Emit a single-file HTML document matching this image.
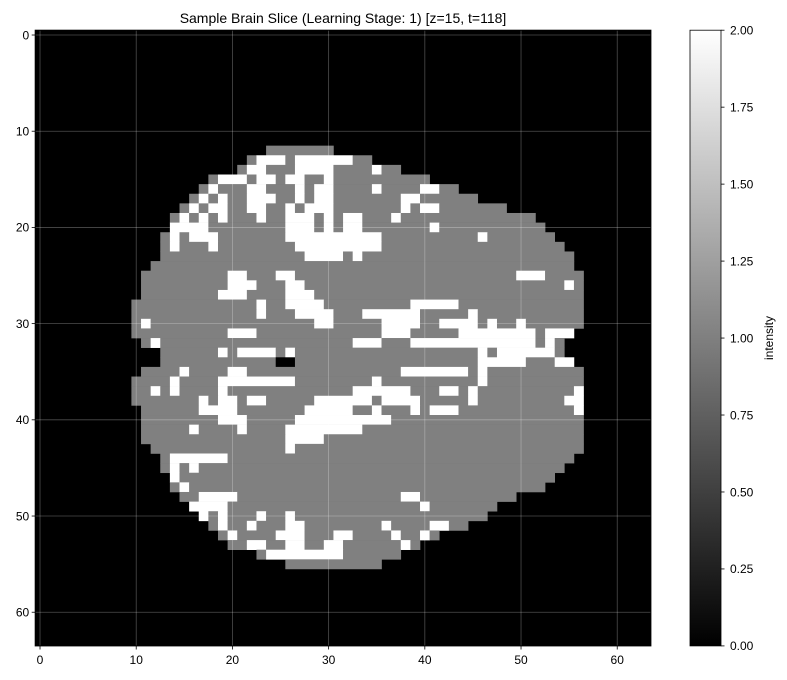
<!DOCTYPE html>
<html><head><meta charset="utf-8"><style>
html,body{margin:0;padding:0;background:#fff;}
svg{display:block;font-family:"Liberation Sans",Arial,sans-serif;}
</style></head><body>
<svg id="chart" width="787" height="680" viewBox="0 0 787 680">
<defs><linearGradient id="cbg" x1="0" y1="1" x2="0" y2="0"><stop offset="0" stop-color="#000"/><stop offset="1" stop-color="#fff"/></linearGradient></defs>
<text x="343" y="23" text-anchor="middle" font-size="14">Sample Brain Slice (Learning Stage: 1) [z=15, t=118]</text>
<g id="img"></g>
<g id="grid"></g>
<rect x="35.2" y="30.2" width="615.7" height="615.7" fill="none" stroke="#000" stroke-width="1"/>
<g id="xt"></g>
<g id="yt"></g>
<rect x="690" y="30.2" width="31" height="615.7" fill="url(#cbg)" stroke="#000" stroke-width="0.8"/>
<g id="ct"></g>
<text transform="translate(773,338) rotate(-90)" text-anchor="middle" font-size="12">intensity</text>
</svg>
<script>
// Each row: "start-end value" runs (value g=1, w=2, k=0); default 0
const rowIndex=[12,13,14,15,16,17,18,19,20,21,22,23,24,25,26,27,28,29,30,31,32,33,34,35,36,37,38,39,40,41,42,43,44,45,46,47,48,49,50,51,52,53,54,55];
const rowRuns=[
"24-30g",
"22g 23-25w 26g 27-32w 33-34g",
"21g 22-23w 24-26g 27-30w 31-34g 35w 36-37g",
"18g 19-21w 22g 23-24w 25g 26-27w 28-29g 30w 31-40g",
"17g 18w 19-21g 22-23w 24-26g 27w 28g 29-30w 31-34g 35w 36-39g 40-41w 42-43g",
"16g 17w 18g 19w 20-21g 22-24w 25-26g 27w 28g 29-30w 31-37g 38-39w 40-45g",
"15g 16w 17g 18-19w 20-21g 22-23w 24-25g 26w 27g 28-30w 31-37g 38w 39g 40-41w 42-48g",
"14g 15w 16g 17w 18g 19w 20-22g 23w 24-25g 26-28w 29g 30w 31g 32-33w 34-36g 37w 38-51g",
"14-17w 18-25g 26-28w 29g 30w 31g 32-33w 34-40g 41w 42-52g",
"13g 14w 15g 16-18w 19-25g 26-35w 36-45g 46w 47-53g",
"13g 14w 15-17g 18w 19-26g 27-35w 36-54g",
"13-27g 28-31w 32g 33w 34-55g",
"12-55g",
"11-19g 20-21w 22-24g 25-26w 27-49g 50-52w 53-56g",
"11-19g 20-22w 23-25g 26-27w 28-54g 55w 56g",
"11-18g 19-21w 22-25g 26-28w 29-56g",
"10-22g 23w 24-25g 26-29w 30-38g 39-43w 44-56g",
"10-22g 23w 24-26g 27-30w 31-33g 34-39w 40-44g 45w 46-56g",
"10g 11w 12-28g 29-30w 31-35g 36-39w 40-41g 42-45w 46g 47w 48-49g 50w 51-56g",
"10-19g 20-22w 23-35g 36-38w 39-43g 44-51w 52g 53-55w",
"11g 12w 13-32g 33-35w 36-38g 39-51w 52g 53w 54g",
"13-18g 19w 20g 21-24w 25g 26w 27-45g 46w 47g 48-53w 54g",
"13-24g 25-26k 27-45g 46-50w 51-53g 54-55w",
"11-14g 15w 16-19g 20-21w 22-37g 38-44w 45g 46w 47-56g",
"10-13g 14w 15-18g 19-26w 27-34g 35w 36-45g 46w 47-56g",
"10-11g 12w 13g 14w 15-18g 19w 20-32g 33-38w 39-41g 42-43w 44g 45w 46-55g 56w",
"10-16g 17w 18g 19-20w 21g 22-23w 24-28g 29-34w 35g 36-39w 40-44g 45w 46-54g 55-56w",
"11-16g 17-20w 21-27g 28-32w 33-34g 35w 36-38g 39w 40g 41-43w 44-55g 56w",
"11-18g 19-21w 22-26g 27-36w 37-56g",
"11-15g 16w 17-20g 21w 22-25g 26-33w 34-56g",
"11-25g 26-29w 30-56g",
"12-25g 26w 27-56g",
"13g 14-19w 20-55g",
"13g 14w 15g 16w 17-54g",
"14w 15-53g",
"14g 15w 16-52g",
"15-16g 17-20w 21-37g 38-39w 40-49g",
"16-19w 20-39g 40w 41-47g",
"17w 18g 19w 20-22g 23w 24-25g 26w 27-46g",
"18g 19w 20-21g 22w 23-25g 26-27w 28-35g 36w 37-40g 41-42w 43-44g",
"19g 20w 21-24g 25-27w 28-30g 31-32w 33-36g 37w 38-39g 40w 41g",
"20-21g 22-23w 24-25g 26-27w 28-29g 30-31w 32-37g 38w 39g",
"23g 24-31w 32-37g",
"26-35g"
];
const xTicks=[0,10,20,30,40,50,60];
const yTicks=[0,10,20,30,40,50,60];
const cbTicks=[0,0.25,0.5,0.75,1,1.25,1.5,1.75,2];
const N=64, vmin=0, vmax=2;
const NS="http://www.w3.org/2000/svg";
const X0=35.2, Y0=30.2, S=615.7/N;
const sx=v=>X0+(v+0.5)*S, sy=v=>Y0+(v+0.5)*S;
const cbY=v=>645.9-(v-vmin)/(vmax-vmin)*615.7;
const col={k:"#000",g:"#808080",w:"#fff"};
function mk(t,a,p){const e=document.createElementNS(NS,t);for(const k in a)e.setAttribute(k,a[k]);p.appendChild(e);return e;}
const img=document.getElementById('img');
const bg=mk('rect',{x:X0,y:Y0,width:615.7,height:615.7,fill:'#000'},img);


rowIndex.forEach((r,i)=>{
  rowRuns[i].split(' ').forEach(seg=>{
    const m=seg.match(/(\d+)(?:-(\d+))?([gwk])/);
    const a=+m[1], b=m[2]?+m[2]:a;
    const c=mk('rect',{x:sx(a-0.5),y:sy(r-0.5),width:(b-a+1)*S+0.3,height:S+0.3,fill:col[m[3]]},img);
    
    
  });
});
const grid=document.getElementById('grid'), xt=document.getElementById('xt'), yt=document.getElementById('yt'), ct=document.getElementById('ct');
xTicks.forEach(t=>{
  const l=mk('line',{x1:sx(t),x2:sx(t),y1:Y0,y2:Y0+615.7,stroke:'#fff','stroke-opacity':0.3,'stroke-width':0.8},grid);
  
  
  mk('line',{x1:sx(t),x2:sx(t),y1:645.9,y2:649.5,stroke:'#000','stroke-width':0.8},xt);
  const tx=mk('text',{x:sx(t),y:664,'text-anchor':'middle','font-size':12},xt);
  tx.textContent=t;
  
  
});
yTicks.forEach(t=>{
  const l=mk('line',{x1:X0,x2:X0+615.7,y1:sy(t),y2:sy(t),stroke:'#fff','stroke-opacity':0.3,'stroke-width':0.8},grid);
  
  
  mk('line',{x1:X0-3.5,x2:X0,y1:sy(t),y2:sy(t),stroke:'#000','stroke-width':0.8},yt);
  const tx=mk('text',{x:X0-6,y:sy(t)+4.3,'text-anchor':'end','font-size':12},yt);
  tx.textContent=t;
  
  
});
cbTicks.forEach(t=>{
  mk('line',{x1:721,x2:724.5,y1:cbY(t),y2:cbY(t),stroke:'#000','stroke-width':0.8},ct);
  const tx=mk('text',{x:730,y:cbY(t)+4.3,'font-size':12},ct);
  tx.textContent=t.toFixed(2);
  
  
});
</script>
</body></html>
